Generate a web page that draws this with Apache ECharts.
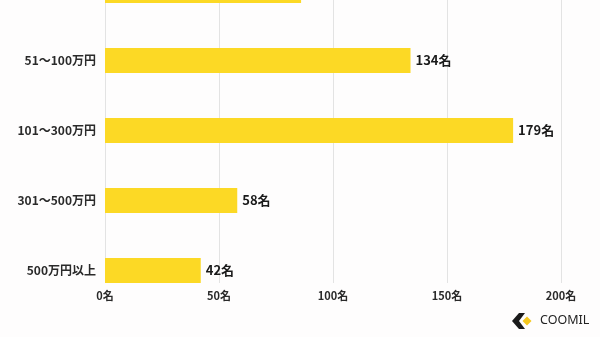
<!DOCTYPE html>
<html><head><meta charset="utf-8">
<script src="https://cdn.jsdelivr.net/npm/echarts@6/dist/echarts.min.js"></script>
<style>html,body{margin:0;padding:0;background:#fefdfd}#c{width:600px;height:337px}</style>
</head><body><div id="c"></div>
<script>
const categories = ['1～50万円', '51～100万円', '101～300万円', '301～500万円', '500万円以上'];
const values = [86, 134, 179, 58, 42];
const xTicks = [0, 50, 100, 150, 200];
const unit = '名';

const FONT = '"Noto Sans CJK JP", "Noto Sans", sans-serif';
const chart = echarts.init(document.getElementById('c'));
chart.setOption({
  backgroundColor: '#fefdfd',
  animation: false,
  grid: [
    {left: 105, width: 456, top: -44.5, height: 350, outerBoundsMode: 'none', containLabel: false},
    {left: 105, width: 456, top: 0, height: 283, outerBoundsMode: 'none', containLabel: false}
  ],
  xAxis: [
    {gridIndex: 0, type: 'value', min: xTicks[0], max: xTicks[xTicks.length-1], interval: 50,
     axisLine: {show: false}, axisTick: {show: false}, splitLine: {show: false}, axisLabel: {show: false}},
    {gridIndex: 1, type: 'value', min: xTicks[0], max: xTicks[xTicks.length-1], interval: 50,
     axisLine: {show: false}, axisTick: {show: false},
     splitLine: {show: true, lineStyle: {color: '#e3e3e3', width: 1}},
     axisLabel: {formatter: v => v + unit, color: '#2a2a2a', fontSize: 11, fontWeight: 'bold', fontFamily: FONT, margin: 7}}
  ],
  yAxis: [
    {gridIndex: 0, type: 'category', data: categories, inverse: true,
     axisLine: {show: false}, axisTick: {show: false},
     axisLabel: {color: '#2a2a2a', fontSize: 12, fontWeight: 'bold', fontFamily: FONT, margin: 9}},
    {gridIndex: 1, type: 'category', data: categories, show: false}
  ],
  series: [{
    type: 'bar', xAxisIndex: 0, yAxisIndex: 0,
    data: values, barWidth: 25,
    itemStyle: {color: '#fcd925'},
    label: {show: true, position: 'right', distance: 5, formatter: p => p.value + unit,
            color: '#1a1a1a', fontSize: 13, fontWeight: 'bold', fontFamily: FONT}
  }],
  graphic: [
    {type: 'polygon', shape: {points: [[519,313],[525,313],[519,321],[525,329],[519,329],[512,321]]}, style: {fill: '#1a1a1a'}},
    {type: 'polygon', shape: {points: [[527,316.5],[531.5,321],[527,325.5],[522.5,321]]}, style: {fill: '#f5c81e'}},
    {type: 'text', left: 540, top: 314, style: {text: 'COOMIL', fill: '#222', fontSize: 12.5, fontFamily: '"Noto Sans", sans-serif', letterSpacing: 3.8}}
  ]
});
</script></body></html>
